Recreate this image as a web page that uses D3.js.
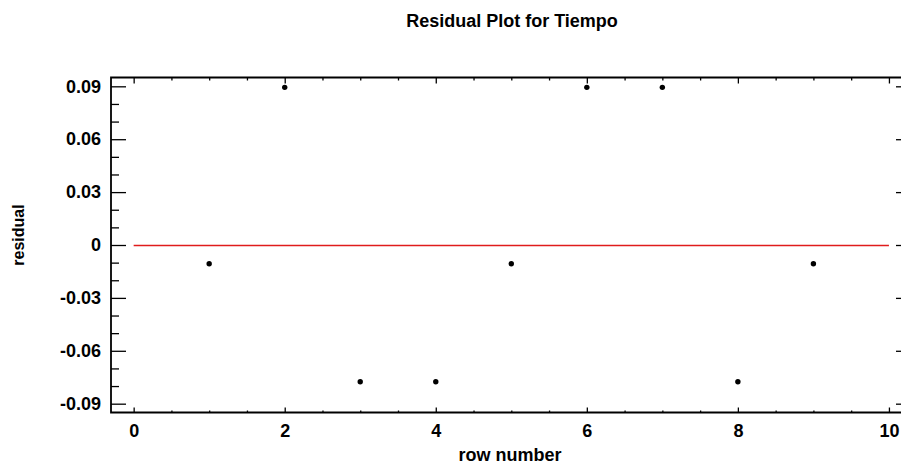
<!DOCTYPE html>
<html><head><meta charset="utf-8">
<script src="https://cdn.jsdelivr.net/npm/d3@7"></script>
<style>
html,body{margin:0;padding:0;background:#fff;}
svg{display:block;font-family:"Liberation Sans",Arial,sans-serif;font-weight:bold;}
</style></head>
<body><svg id="c" width="901" height="466"></svg>
<script>
const rows = [1, 2, 3, 4, 5, 6, 7, 8, 9];
const residuals = [-0.0106, 0.0894, -0.0776, -0.0776, -0.0106, 0.0894, 0.0894, -0.0776, -0.0106];
const xTicks = [0, 2, 4, 6, 8, 10];
const yTicks = [-0.09, -0.06, -0.03, 0, 0.03, 0.06, 0.09];
const yTickLabels = ["-0.09", "-0.06", "-0.03", "0", "0.03", "0.06", "0.09"];
const title = "Residual Plot for Tiempo";
const xLabel = "row number";
const yLabel = "residual";

const svg = d3.select("#c");
const L = 111, R = 902, T = 77.5, B = 412.5;
const x = d3.scaleLinear().domain([-0.3, 10.173]).range([L, R]);
const y = d3.scaleLinear().domain([-0.095, 0.095]).range([B, T]);

const xMinor = d3.range(0, 10.01, 0.5).filter(v => Math.abs(v/2 - Math.round(v/2)) > 1e-6);
const yMinor = d3.range(-0.09, 0.0901, 0.01).filter(v => Math.abs(v/0.03 - Math.round(v/0.03)) > 1e-6);

// points
svg.selectAll("circle.pt").data(rows).join("circle").attr("class","pt")
  .attr("cx", d => x(d)).attr("cy", (d,i) => y(residuals[i])).attr("r", 2.7).attr("fill", "#000");

// axes
function ax(axis, tx, ty) {
  const g = svg.append("g").attr("transform", `translate(${tx},${ty})`).call(axis);
  g.select(".domain").remove();
  g.selectAll("line").attr("stroke", "#000").attr("stroke-width", 1.3);
  return g;
}
// bottom
let g = ax(d3.axisBottom(x).tickValues(xTicks).tickSize(-5).tickPadding(12).tickFormat(d3.format("d")), 0, B);
g.selectAll("text").attr("font-size", 18).attr("fill", "#000").attr("font-family", "Liberation Sans, Arial, sans-serif").attr("font-weight", "bold");
ax(d3.axisBottom(x).tickValues(xMinor).tickSize(-2).tickFormat(""), 0, B);
// top
ax(d3.axisTop(x).tickValues(xTicks).tickSize(-6).tickFormat(""), 0, T);
ax(d3.axisTop(x).tickValues(xMinor).tickSize(-3).tickFormat(""), 0, T);
// left
g = ax(d3.axisLeft(y).tickValues(yTicks).tickSize(-15).tickPadding(10).tickFormat((d,i) => yTickLabels[i]), L, 0);
g.selectAll("text").attr("font-size", 18).attr("fill", "#000").attr("font-family", "Liberation Sans, Arial, sans-serif").attr("font-weight", "bold");
ax(d3.axisLeft(y).tickValues(yMinor).tickSize(-8).tickFormat(""), L, 0);
// right
ax(d3.axisRight(y).tickValues(yTicks).tickSize(-6).tickFormat(""), R, 0);

// zero line (drawn after axes so it stays red)
svg.append("line").attr("x1", x(0)).attr("x2", x(10)).attr("y1", y(0) + 0.6).attr("y2", y(0) + 0.6)
  .attr("stroke", "#e01c1c").attr("stroke-width", 1.5);

// frame
svg.append("path").attr("d", `M${R},${T} H${L} V${B} H${R}`)
  .attr("fill", "none").attr("stroke", "#000").attr("stroke-width", 1.8);

// texts
svg.append("text").attr("x", 512).attr("y", 27).attr("text-anchor", "middle")
  .attr("font-size", 18).text(title);
svg.append("text").attr("x", 510).attr("y", 461).attr("text-anchor", "middle")
  .attr("font-size", 18).text(xLabel);
svg.append("text").attr("transform", "translate(24,235) rotate(-90)").attr("text-anchor", "middle")
  .attr("font-size", 16).text(yLabel);
</script></body></html>
